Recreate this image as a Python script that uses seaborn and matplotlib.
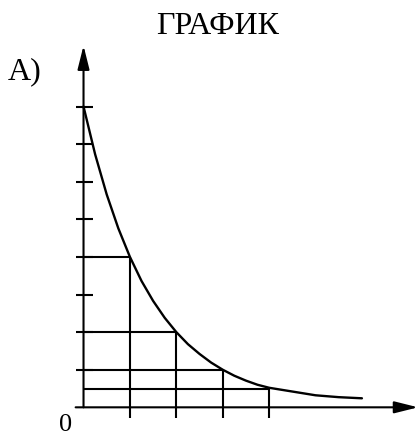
import matplotlib.pyplot as plt
import seaborn as sns

# curve (x in time steps, y in tick units)
t = [0, 0.25, 0.5, 0.75, 1, 1.25, 1.5, 1.75, 2, 2.25, 2.5, 2.75, 3,
     3.25, 3.5, 3.75, 4, 4.5, 5, 5.5, 6]
n = [8, 6.73, 5.66, 4.76, 4, 3.36, 2.83, 2.38, 2, 1.68, 1.42, 1.19, 1.0,
     0.84, 0.71, 0.6, 0.52, 0.42, 0.32, 0.27, 0.24]

# marked points with guide lines down to the axes
mark_t = [1, 2, 3, 4]
mark_n = [4, 2, 1, 0.5]

y_ticks = [1, 2, 3, 4, 5, 6, 7, 8]

sns.set_style("white")
plt.rcParams["font.family"] = ["Liberation Serif", "DejaVu Serif"]
plt.rcParams["text.color"] = "black"

fig = plt.figure(figsize=(4.19, 4.39), dpi=100)
ax = fig.add_axes([0, 0, 1, 1])
ax.set_xlim(-1.80, 7.23)
ax.set_ylim(-0.816, 10.86)
ax.axis("off")

lw = 1.5
head = "-|>,head_length=0.8,head_width=0.2"

# axes with arrows
ax.annotate("", xy=(7.21, 0), xytext=(-0.17, 0),
            arrowprops=dict(arrowstyle=head, color="black", lw=lw,
                            mutation_scale=18, shrinkA=0, shrinkB=0))
ax.annotate("", xy=(0, 9.62), xytext=(0, 0),
            arrowprops=dict(arrowstyle=head, color="black", lw=lw,
                            mutation_scale=18, shrinkA=0, shrinkB=0))

# ticks on the y axis
ax.hlines(y_ticks, -0.17, 0.2, color="black", lw=lw)

# guide lines
ax.hlines(mark_n, 0, mark_t, color="black", lw=lw)
ax.vlines(mark_t, -0.29, mark_n, color="black", lw=lw)

# the curve
sns.lineplot(x=t, y=n, color="black", lw=1.7, ax=ax)

fig.text(218 / 419, 1 - 26 / 439, "ГРАФИК", fontsize=23, color="black",
         ha="center", va="center")
fig.text(8 / 419, 1 - 79 / 439, "А)", fontsize=23, color="black",
         ha="left", va="baseline")
fig.text(66 / 419, 1 - 425 / 439, "0", fontsize=19, color="black",
         ha="center", va="center")

fig.savefig("out.png", dpi=100)
